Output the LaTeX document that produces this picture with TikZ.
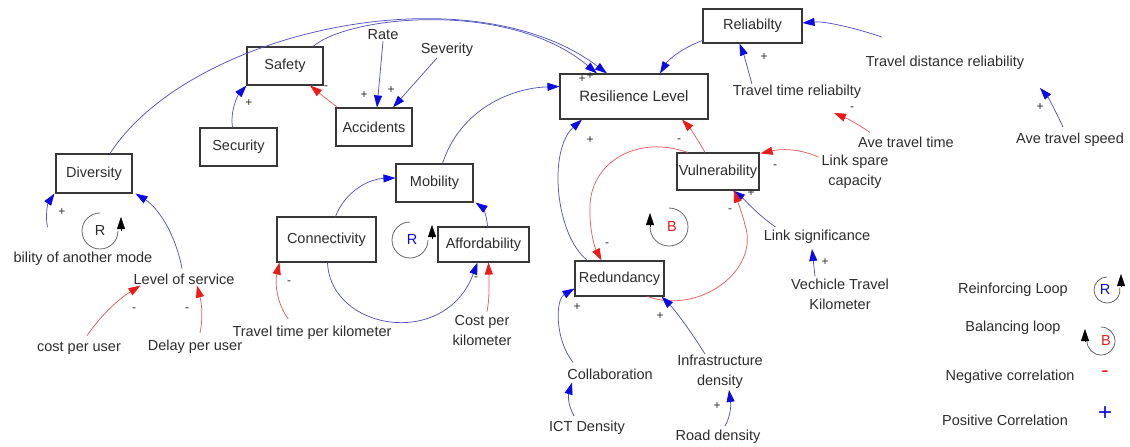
\documentclass[tikz,border=0pt]{standalone}
\usepackage{fontspec}
\setmainfont{Liberation Sans}
\usetikzlibrary{arrows.meta,calc}
\definecolor{lb}{RGB}{85,85,195}
\definecolor{ab}{RGB}{10,10,230}
\definecolor{lr}{RGB}{232,95,95}
\definecolor{ar}{RGB}{238,25,25}
\definecolor{tx}{RGB}{45,45,45}
\definecolor{bx}{RGB}{55,55,55}
\newcommand\myfs{\fontsize{14.5}{20}\selectfont}
\begin{document}
\begin{tikzpicture}[x=1pt,y=-1pt,
  box/.style={draw=bx,line width=1.1pt,inner sep=0pt,font=\myfs,text=tx},
  lbl/.style={inner sep=1pt,font=\myfs,text=tx,align=center},
  poslink/.style={draw=lb,line width=0.75pt,-{Triangle[length=12pt,width=8pt,color=ab]}},
  neglink/.style={draw=lr,line width=0.75pt,-{Triangle[length=12pt,width=8pt,color=ar]}},
  sg/.style={font=\fontsize{12}{12}\selectfont,text=tx,inner sep=0pt},
  loopc/.style={draw=bx!80,line width=0.75pt},
  looptip/.style={-{Triangle[length=12pt,width=8pt,color=black]}}]
\useasboundingbox (0,0) rectangle (1130,447);
\fill[white] (0,0) rectangle (1130,447);

% boxes
\node[box,minimum width=76pt,minimum height=39pt] (div) at (94,173.5) {Diversity};
\node[box,minimum width=76pt,minimum height=38pt] (saf) at (285,66) {Safety};
\node[box,minimum width=77pt,minimum height=38pt] (sec) at (238.5,147) {Security};
\node[box,minimum width=76pt,minimum height=38pt] (acc) at (374,127) {Accidents};
\node[box,minimum width=148pt,minimum height=45pt] (res) at (634,96.5) {\fontsize{15}{18}\selectfont Resilience Level};
\node[box,minimum width=99pt,minimum height=34pt] (rel) at (752.5,26) {Reliabilty};
\node[box,minimum width=77pt,minimum height=38pt] (mob) at (434.5,183) {Mobility};
\node[box,minimum width=82pt,minimum height=37pt] (vul) at (718,171.5) {Vulnerability};
\node[box,minimum width=99pt,minimum height=45pt] (con) at (326.5,239.5) {Connectivity};
\node[box,minimum width=91pt,minimum height=35pt] (aff) at (483.5,244.5) {Affordability};
\node[box,minimum width=89pt,minimum height=35pt] (red) at (619.5,278.5) {Redundancy};

% text variables
\node[lbl] (rate) at (383,35) {Rate};
\node[lbl] (sev) at (447,50) {Severity};
\node[lbl] (tdr) at (945,63) {Travel distance reliability};
\node[lbl] (ttr) at (797,92) {Travel time reliabilty};
\node[lbl] (att) at (906,142) {Ave travel time};
\node[lbl] (ats) at (1070,140) {Ave travel speed};
\node[lbl] (lsc) at (855,172) {Link spare\\capacity};
\node[lbl] (lsig) at (817,237) {Link significance};
\node[lbl] (vtk) at (840,294) {Vechicle Travel\\Kilometer};
\node[lbl] (col) at (610,374) {Collaboration};
\node[lbl] (ict) at (587,428) {ICT Density};
\node[lbl] (inf) at (720,372) {Infrastructure\\density};
\node[lbl] (road) at (718,437) {Road density};
\node[lbl] (cpk) at (482,331) {Cost per\\kilometer};
\node[lbl] (ttpk) at (312,333) {Travel time per kilometer};
\node[lbl] (cpu) at (79,348) {cost per user};
\node[lbl] (dpu) at (195,347) {Delay per user};
\node[lbl] (los) at (184,279) {Level of service};
\node[lbl] (boam) at (83,259) {bility of another mode};

% legend
\node[lbl] (lgr) at (1013,290) {Reinforcing Loop};
\node[lbl] (lgb) at (1013,328) {Balancing loop};
\node[lbl] (lgn) at (1010,377) {Negative correlation};
\node[lbl] (lgp) at (1005,420) {Positive Correlation};
\node[inner sep=0pt,text=ar,font=\fontsize{22}{22}\selectfont] (lgm) at (1105,374) {-};
\node[inner sep=0pt,text=ab,font=\fontsize{24}{24}\selectfont] (lgpl) at (1105,414) {+};

% loop symbols
\node[inner sep=0pt,font=\myfs,text=tx] (lR) at (100,231) {R};
\draw[loopc] ($(lR)+(0,-18)$) arc[start angle=270,end angle=0,radius=18];
\draw[looptip] ($(lR)+(21,0)$) -- ++(0,-14);

\node[inner sep=0pt,font=\myfs,text=ab] (mR) at (412,240) {R};
\draw[loopc] ($(mR)+(-2,-18)$) arc[start angle=270,end angle=0,radius=18];
\draw[looptip] ($(mR)+(20,-1)$) -- ++(0,-14);

\node[inner sep=0pt,font=\myfs,text=ar] (mB) at (672,227) {B};
\draw[loopc] ($(mB)+(-3,-19)$) arc[start angle=270,end angle=540,radius=19];
\draw[looptip] ($(mB)+(-22,0)$) -- ++(0,-14);

\node[inner sep=0pt,font=\myfs,text=ab] (gR) at (1105,290) {R};
\draw[loopc] ($(gR)+(2,-13)$) arc[start angle=270,end angle=-10,radius=13];
\draw[looptip] ($(gR)+(16,-3)$) -- ++(0,-13);

\node[inner sep=0pt,font=\myfs,text=ar] (gB) at (1106,341) {B};
\draw[loopc] ($(gB)+(-5,-14)$) arc[start angle=270,end angle=540,radius=14];
\draw[looptip] ($(gB)+(-21,1)$) -- ++(0,-13);

% connectors
\draw[poslink] ($(div.north)+(16,0)$) .. controls (190,30) and (470,-30) .. ($(res.north)+(-27,0)$);
\draw[poslink] ($(saf.north)+(28,0)$) .. controls (350,15) and (510,0) .. ($(res.north)+(-37,0)$);
\draw[poslink] ($(sec.north)+(-6,0)$) .. controls (230,110) and (238,95) .. (saf.south west);
\draw[neglink] ($(acc.north west)+(2,0)$) .. controls (328,100) and (318,92) .. ($(saf.south)+(25,0)$);
\draw[poslink] (rate.south) -- ($(acc.north)+(3,0)$);
\draw[poslink] ($(sev.south)+(-10,0)$) -- ($(acc.north)+(19,0)$);
\draw[poslink] ($(mob.north)+(8,0)$) .. controls (460,110) and (510,88) .. ($(res.west)+(0,-10)$);
\draw[poslink] ($(rel.south west)+(0,-3)$) .. controls (682,48) and (668,60) .. ($(res.north)+(26,0)$);
\draw[poslink] ($(ttr.north)+(-45,0)$) .. controls (748,70) and (744,55) .. ($(rel.south)+(-13,0)$);
\draw[poslink] ($(tdr.north)+(-63,-18)$) .. controls (855,28) and (825,21) .. ($(rel.east)+(0,-3)$);
\draw[neglink] ($(att.north)+(-36,-3)$) .. controls (858,124) and (846,118) .. ($(ttr.south)+(37,13)$);
\draw[poslink] ($(ats.north)+(-7,-5)$) .. controls (1055,110) and (1048,97) .. ($(tdr.south)+(95,17)$);
\draw[neglink] ($(lsc.north west)+(-2,3)$) .. controls (798,148) and (780,149) .. ($(vul.north east)+(1,1)$);
\draw[poslink] ($(lsig.north west)+(13,-2)$) .. controls (758,215) and (745,200) .. ($(vul.south)+(15,0)$);
\draw[poslink] ($(vtk.north)+(-25,-1)$) -- ($(lsig.south)+(-5,4)$);
\draw[neglink] ($(vul.north)+(-13,0)$) .. controls (698,140) and (690,128) .. ($(res.south)+(48,0)$);
\draw[poslink] ($(red.north west)+(13,0)$) .. controls (555,235) and (548,150) .. ($(res.south)+(-52,0)$);
\draw[neglink] ($(vul.north west)+(11,0)$) .. controls (640,135) and (592,160) .. (590,205) .. controls (589,230) and (595,248) .. ($(red.north)+(-18,0)$);
\draw[neglink] ($(red.south east)+(-17,0)$) .. controls (700,315) and (760,270) .. (745,225) .. controls (742,212) and (738,203) .. ($(vul.south)+(16,0)$);
\draw[poslink] ($(col.north west)+(7,-5)$) .. controls (555,340) and (555,300) .. ($(red.west)+(0,10)$);
\draw[poslink] ($(inf.north)+(-15,0)$) .. controls (690,330) and (675,310) .. ($(red.south east)+(-3,0)$);
\draw[poslink] ($(ict.north)+(-13,-4)$) .. controls (568,405) and (568,396) .. ($(col.south)+(-38,2)$);
\draw[poslink] ($(road.north)+(7,-3)$) .. controls (731,415) and (731,405) .. ($(inf.south)+(9,0)$);
\draw[poslink] ($(con.north)+(9,0)$) .. controls (345,192) and (368,179) .. ($(mob.west)+(0,-5)$);
\draw[poslink] ($(aff.north)+(4,0)$) .. controls (487,215) and (482,207) .. ($(mob.south east)+(2,0)$);
\draw[poslink] ($(con.south)+(1,0)$) .. controls (330,330) and (445,350) .. ($(aff.south)+(-6,0)$);
\draw[neglink] ($(cpk.north)+(5,-3)$) .. controls (490,295) and (489,280) .. ($(aff.south)+(5,0)$);
\draw[neglink] ($(ttpk.north west)+(57,-6)$) .. controls (276,302) and (275,282) .. ($(con.south west)+(3,0)$);
\draw[poslink] ($(los.north)+(-2,-4)$) .. controls (175,232) and (157,207) .. ($(div.south east)+(3,0)$);
\draw[poslink] ($(boam.north west)+(35,-24)$) .. controls (45,215) and (48,203) .. ($(div.south west)+(-1,0)$);
\draw[neglink] ($(cpu.north)+(8,-5)$) .. controls (105,310) and (122,297) .. ($(los.south west)+(8,0)$);
\draw[neglink] ($(dpu.north)+(5,-6)$) .. controls (203,318) and (202,305) .. ($(los.south)+(13,0)$);

% polarity signs
\node[sg] (p1) at (62,212) {+};
\node[sg] (p2) at (249,103) {+};
\node[sg] (p3) at (326,88) {-};
\node[sg] (p4) at (364,95) {+};
\node[sg] (p5) at (391,90) {+};
\node[sg] (p6) at (582,79) {+};
\node[sg] (p7) at (590,76) {+};
\node[sg] (p8) at (590,140) {+};
\node[sg] (p9) at (679,141) {-};
\node[sg] (p10) at (764,57) {+};
\node[sg] (p11) at (852,109) {-};
\node[sg] (p12) at (1040,107) {+};
\node[sg] (p13) at (775,167) {-};
\node[sg] (p14) at (751,193) {+};
\node[sg] (p15) at (730,211) {-};
\node[sg] (p16) at (825,262) {+};
\node[sg] (p17) at (607,245) {-};
\node[sg] (p18) at (577,307) {+};
\node[sg] (p19) at (660,316) {+};
\node[sg] (p20) at (717,406) {+};
\node[sg] (p21) at (476,279) {-};
\node[sg] (p22) at (289,283) {-};
\node[sg] (p23) at (134,310) {-};
\node[sg] (p24) at (187,310) {-};
\end{tikzpicture}
\end{document}
